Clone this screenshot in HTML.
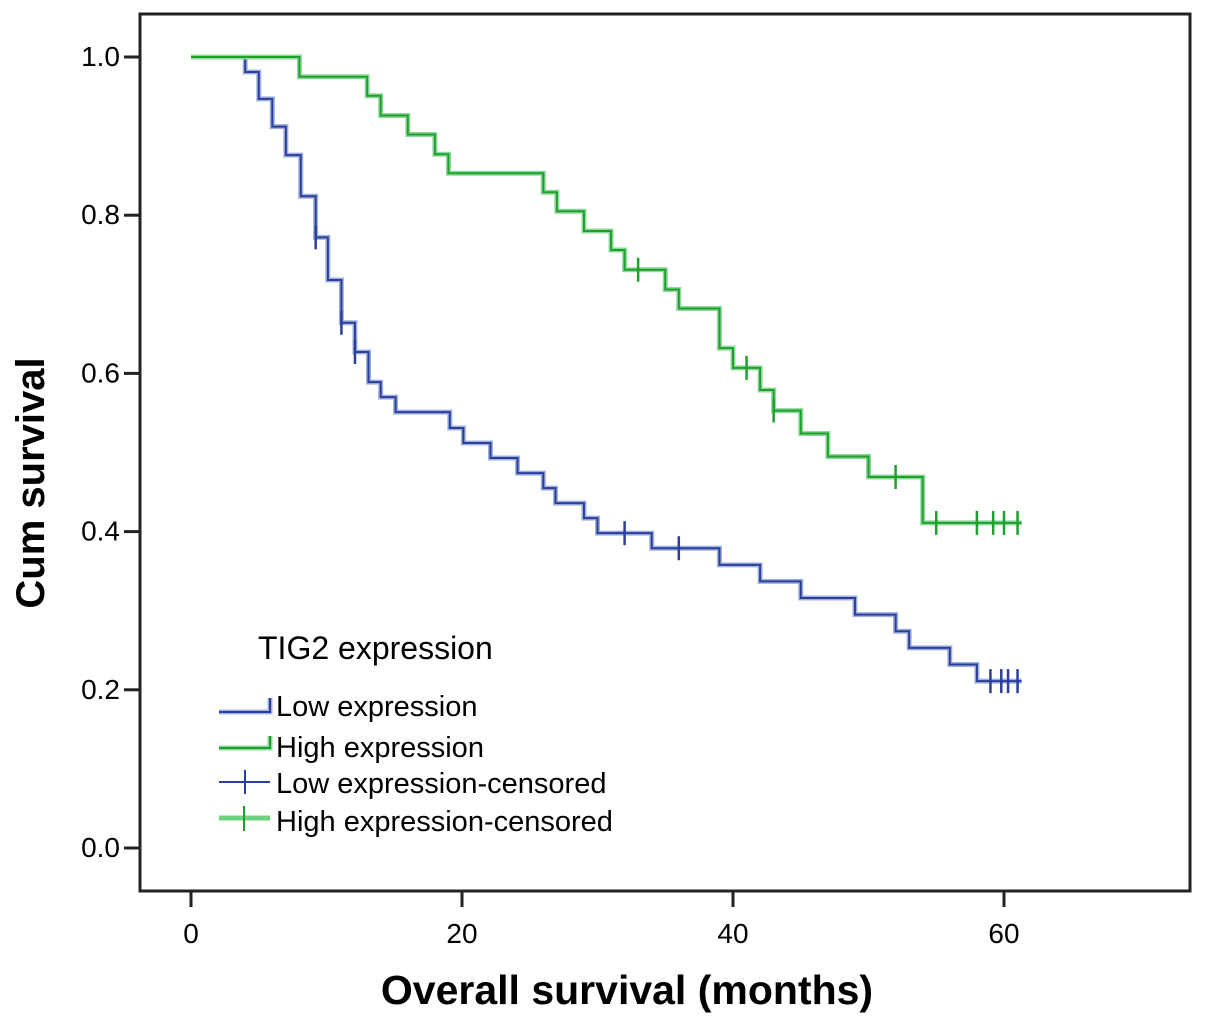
<!DOCTYPE html>
<html><head><meta charset="utf-8"><style>
body{margin:0;background:#fff;}
svg text{font-family:"Liberation Sans",Arial,sans-serif;}
</style></head><body>
<svg id="chart" width="1205" height="1024" viewBox="0 0 1205 1024" xmlns="http://www.w3.org/2000/svg">
<rect x="0" y="0" width="1205" height="1024" fill="#fff"/>
<g id="axes"></g>
<g id="series"></g>
<g id="legend">
  <text x="258" y="659" font-size="32">TIG2 expression</text>
  <g>
    <path d="M219 712 H270 V698" fill="none" stroke="#9fb0dc" stroke-width="5"/>
    <path d="M219 712 H270 V698" fill="none" stroke="#2a3f9a" stroke-width="2"/>
    <text x="276" y="716" font-size="29">Low expression</text>
  </g>
  <g>
    <path d="M219 748 H270 V736" fill="none" stroke="#8fd89a" stroke-width="5"/>
    <path d="M219 748 H270 V736" fill="none" stroke="#1ea02e" stroke-width="2"/>
    <text x="276" y="757" font-size="29">High expression</text>
  </g>
  <g>
    <path d="M219 782 H270 M245 770 V794" stroke="#2a3f9a" stroke-width="2"/>
    <text x="276" y="793" font-size="29">Low expression-censored</text>
  </g>
  <g>
    <path d="M219 818 H270" stroke="#6fd07f" stroke-width="5"/>
    <path d="M244 806 V831" stroke="#1ea02e" stroke-width="2"/>
    <text x="276" y="831" font-size="29">High expression-censored</text>
  </g>
</g>
</svg>
<script>
const xTicks=[0,20,40,60];
const yTicks=[0.0,0.2,0.4,0.6,0.8,1.0];
const lowTimes=[0,4,5,6,7,8.1,9.2,10.1,11.1,12.1,13.1,14,15.1,19.1,20.1,22.1,24.1,26,26.9,29,30,34,39,42,45,49,52,53,56,58,61.3];
const lowSurv=[1.0,0.981,0.947,0.912,0.876,0.824,0.772,0.718,0.664,0.627,0.589,0.570,0.551,0.531,0.512,0.493,0.474,0.455,0.436,0.417,0.398,0.379,0.358,0.337,0.316,0.295,0.274,0.253,0.232,0.211,0.211];
const lowCensor=[9.2,11.1,12.1,32,36,59,59.8,60.3,61];
const highTimes=[0,8,13,14,16,18,19,26,27,29,31,32,35,36,39,40,42,43,45,47,50,54,61.3];
const highSurv=[1.0,0.975,0.951,0.926,0.902,0.877,0.853,0.829,0.805,0.780,0.756,0.731,0.706,0.682,0.632,0.607,0.579,0.553,0.524,0.495,0.469,0.411,0.411];
const highCensor=[33,41,43,52,55,58,59.2,60,61];

const X=m=>191+13.55*m;
const Y=s=>848-791*s;
const NS="http://www.w3.org/2000/svg";
function mk(tag,attrs,parent){const e=document.createElementNS(NS,tag);for(const k in attrs)e.setAttribute(k,attrs[k]);parent.appendChild(e);return e;}
const axes=document.getElementById('axes');
const fr=mk('rect',{x:140,y:14,width:1050,height:877,fill:'none',stroke:'#222','stroke-width':3},axes);


yTicks.forEach(v=>{
  const l=mk('line',{x1:124,x2:140,y1:Y(v),y2:Y(v),stroke:'#222','stroke-width':3},axes);
  
  
  const t=mk('text',{x:120,y:Y(v)+9,'text-anchor':'end','font-size':28},axes);
  t.textContent=v.toFixed(1);
  
  
});
xTicks.forEach(v=>{
  const l=mk('line',{x1:X(v),x2:X(v),y1:891,y2:907,stroke:'#222','stroke-width':3},axes);
  
  
  const t=mk('text',{x:X(v),y:943,'text-anchor':'middle','font-size':28},axes);
  t.textContent=String(v);
  
  
});
const xt=mk('text',{x:627,y:1004,'text-anchor':'middle','font-size':41,'font-weight':'bold'},axes);
xt.textContent='Overall survival (months)';


const yt=mk('text',{x:0,y:0,'text-anchor':'middle','font-size':40,'font-weight':'bold',transform:'translate(44,483) rotate(-90)'},axes);
yt.textContent='Cum survival';



const ser=document.getElementById('series');
function stepPath(t,s){let d='M'+X(t[0])+' '+Y(s[0]);for(let i=1;i<t.length;i++){d+=' H'+X(t[i])+' V'+Y(s[i]);}return d;}
function survAt(t,s,m){let v=s[0];for(let i=0;i<t.length;i++){if(t[i]<=m)v=s[i];}return v;}
function drawSeries(t,s,c,light,dark,name){
  const g=mk('g',{},ser);
  
  
  const d=stepPath(t,s);
  mk('path',{d:d,fill:'none',stroke:light,'stroke-width':5},g);
  mk('path',{d:d,fill:'none',stroke:dark,'stroke-width':2},g);
  c.forEach(m=>{
    const y=Y(survAt(t,s,m));
    const p=mk('path',{d:'M'+X(m)+' '+(y-12)+' V'+(y+12),stroke:dark,'stroke-width':2.5},ser);
    
    
  });
}
drawSeries(lowTimes,lowSurv,lowCensor,'#9fb0dc','#2a3f9a','low-expression');
drawSeries(highTimes,highSurv,highCensor,'#8fd89a','#1ea02e','high-expression');
</script>
</body></html>
